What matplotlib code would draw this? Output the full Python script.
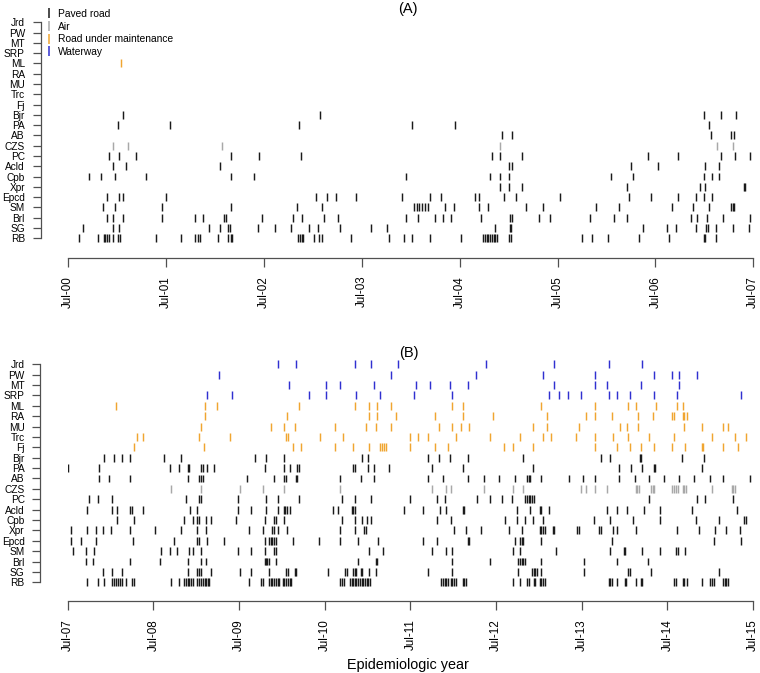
import matplotlib
matplotlib.use('Agg')
import matplotlib.pyplot as plt
from matplotlib.lines import Line2D

plt.rcParams['font.family'] = ['Liberation Sans', 'DejaVu Sans']

# categories, top to bottom
cats = ['Jrd', 'PW', 'MT', 'SRP', 'ML', 'RA', 'MU', 'Trc', 'Fj', 'Bjr', 'PA',
        'AB', 'CZS', 'PC', 'Acld', 'Cpb', 'Xpr', 'Epcd', 'SM', 'Brl', 'SG', 'RB']

# transport mode of each category
mode = {'Jrd': 'water', 'PW': 'water', 'MT': 'water', 'SRP': 'water',
        'ML': 'maint', 'RA': 'maint', 'MU': 'maint', 'Trc': 'maint', 'Fj': 'maint',
        'CZS': 'air'}

legend_labels = ['Paved road', 'Air', 'Road under maintenance', 'Waterway']
ticks_A = ['Jul-00', 'Jul-01', 'Jul-02', 'Jul-03', 'Jul-04', 'Jul-05', 'Jul-06', 'Jul-07']
ticks_B = ['Jul-07', 'Jul-08', 'Jul-09', 'Jul-10', 'Jul-11', 'Jul-12', 'Jul-13', 'Jul-14', 'Jul-15']

# events, in years since Jul-00
events_A = {
    'ML': [0.54],
    'Bjr': [0.56, 2.57, 6.50, 6.67, 6.82],
    'PA': [0.51, 1.04, 2.36, 3.51, 3.95, 6.55],
    'AB': [4.43, 4.54, 6.57, 6.77, 6.80],
    'CZS': [0.46, 0.61, 1.57, 4.41, 6.63, 6.79],
    'PC': [0.42, 0.52, 0.69, 1.67, 1.95, 2.38, 4.33, 4.41, 4.64, 5.92, 6.23, 6.67,
           6.81, 6.97],
    'Acld': [0.46, 0.59, 1.55, 4.50, 4.54, 5.75, 6.03, 6.51, 6.65],
    'Cpb': [0.21, 0.34, 0.48, 0.80, 1.67, 1.90, 3.45, 4.31, 4.41, 4.50, 5.55, 5.77,
            6.50, 6.58, 6.65],
    'Xpr': [4.41, 4.50, 4.64, 5.71, 6.46, 6.51, 6.90, 6.92],
    'Epcd': [0.40, 0.52, 0.56, 1.00, 2.53, 2.65, 2.74, 2.94, 3.41, 3.70, 3.81, 4.16,
             4.20, 4.45, 4.58, 5.03, 5.73, 5.96, 6.23, 6.41, 6.50, 6.58],
    'SM': [0.36, 0.48, 0.96, 1.67, 2.34, 2.59, 3.53, 3.56, 3.59, 3.62, 3.65, 3.68,
           3.85, 3.94, 4.20, 4.29, 4.68, 4.85, 5.39, 5.63, 6.17, 6.38, 6.55, 6.77,
           6.79, 6.80],
    'Brl': [0.40, 0.46, 0.56, 0.96, 1.30, 1.38, 1.59, 1.61, 1.98, 2.30, 2.39, 2.62,
            2.76, 3.45, 3.58, 3.75, 3.83, 3.91, 4.22, 4.51, 4.54, 4.81, 4.92, 5.33,
            5.58, 5.71, 6.36, 6.42, 6.53, 6.69, 6.97],
    'SG': [0.15, 0.46, 0.52, 1.44, 1.55, 1.63, 1.65, 1.94, 2.11, 2.28, 2.46, 2.55,
           2.78, 3.10, 3.26, 4.36, 4.51, 4.52, 5.87, 6.12, 6.21, 6.41, 6.52, 6.54,
           6.62, 6.79, 6.96],
    'RB': [0.11, 0.31, 0.37, 0.38, 0.40, 0.42, 0.46, 0.51, 0.53, 0.90, 1.15, 1.30,
           1.33, 1.35, 1.53, 1.63, 1.66, 1.68, 2.35, 2.37, 2.39, 2.40, 2.51, 2.56,
           2.59, 2.89, 3.28, 3.43, 3.51, 3.70, 4.01, 4.24, 4.26, 4.28, 4.29, 4.31,
           4.33, 4.35, 4.36, 4.38, 4.50, 4.52, 5.25, 5.35, 5.52, 5.83, 6.14, 6.50,
           6.51, 6.62],
}

# events, in years since Jul-07
events_B = {
    'Jrd': [2.46, 2.67, 3.35, 3.54, 3.85, 4.88, 5.68, 6.32, 6.71],
    'PW': [1.77, 3.77, 4.77, 5.55, 6.16, 6.85, 7.06, 7.14, 7.35],
    'MT': [2.58, 3.01, 3.18, 3.58, 4.07, 4.23, 4.46, 4.67, 5.68, 6.16, 6.29, 6.69, 7.14],
    'SRP': [1.63, 1.92, 2.82, 3.02, 3.36, 3.65, 4.04, 4.49, 5.62, 5.74, 5.84, 5.99,
            6.32, 6.41, 6.56, 6.85, 7.11, 7.86],
    'ML': [0.56, 1.60, 1.74, 2.70, 3.35, 3.52, 3.61, 3.77, 4.49, 4.61, 5.53, 6.16,
           6.54, 6.64, 6.87, 7.11, 7.18],
    'RA': [1.60, 2.56, 3.52, 3.61, 3.83, 4.29, 4.61, 4.97, 5.59, 6.05, 6.16, 6.35,
           6.66, 6.83, 7.06, 7.08, 7.18, 7.20, 7.23],
    'MU': [1.56, 2.37, 2.53, 2.65, 3.12, 3.48, 3.60, 3.77, 4.33, 4.49, 4.59, 4.69,
           5.43, 5.60, 5.97, 6.45, 6.53, 6.66, 7.20, 7.41, 7.65, 7.71],
    'Trc': [0.81, 0.88, 1.53, 1.90, 2.55, 2.57, 2.95, 3.21, 4.00, 4.09, 4.21, 4.53,
            4.93, 5.28, 5.55, 5.64, 5.93, 6.16, 6.37, 6.54, 6.79, 7.08, 7.52, 7.79,
            7.92],
    'Fj': [0.77, 1.59, 2.63, 2.72, 3.12, 3.33, 3.52, 3.65, 3.67, 3.69, 3.71, 4.00,
           4.29, 4.44, 5.09, 5.20, 5.43, 6.16, 6.41, 6.56, 6.69, 6.85, 7.06, 7.21,
           7.41, 7.42, 7.65, 7.83],
    'Bjr': [0.42, 0.54, 0.63, 0.73, 1.13, 1.32, 2.19, 2.32, 2.53, 3.44, 3.50, 4.21,
            4.33, 4.46, 4.67, 5.32, 6.22, 6.33, 6.68, 6.69, 7.17, 7.43],
    'PA': [0.00, 0.37, 1.19, 1.30, 1.40, 1.42, 1.56, 1.58, 1.63, 1.71, 2.30, 2.53,
           2.59, 2.68, 2.70, 3.33, 3.35, 3.50, 3.58, 3.75, 4.25, 4.61, 5.43, 6.43,
           6.58, 6.71, 6.85, 6.86, 7.41],
    'AB': [0.37, 0.48, 0.73, 1.40, 1.53, 1.56, 1.58, 2.09, 2.41, 2.53, 2.55, 2.67,
           2.68, 3.18, 3.42, 3.58, 4.21, 4.38, 4.67, 4.86, 5.03, 5.22, 5.36, 5.38,
           5.40, 5.53, 5.85, 6.01, 6.16, 6.43, 6.62, 6.79, 6.96, 7.14, 7.31, 7.50,
           7.65, 7.96],
    'CZS': [1.21, 1.56, 2.01, 2.28, 2.53, 3.18, 4.25, 4.42, 4.48, 4.86, 5.20, 5.32,
            5.99, 6.05, 6.16, 6.29, 6.63, 6.65, 6.67, 6.81, 6.83, 6.85, 7.06, 7.08,
            7.10, 7.12, 7.18, 7.20, 7.22, 7.52, 7.75, 7.77, 7.79],
    'PC': [0.25, 0.35, 0.52, 1.38, 1.53, 1.56, 1.99, 2.32, 2.45, 2.70, 3.20, 3.35,
           3.54, 4.00, 4.31, 4.40, 4.78, 4.93, 5.07, 5.19, 5.34, 5.36, 5.38, 5.40,
           5.42, 5.44, 6.79, 7.35, 7.44, 7.77],
    'Acld': [0.23, 0.52, 0.58, 0.73, 0.75, 0.88, 1.43, 1.51, 1.99, 2.14, 2.32, 2.45,
             2.52, 2.54, 2.56, 2.60, 3.10, 3.16, 3.32, 3.33, 3.35, 3.93, 4.15, 4.35,
             4.42, 4.61, 4.63, 5.24, 5.40, 5.51, 5.53, 5.62, 6.29, 6.41, 6.53, 6.73,
             6.91, 7.29, 7.81],
    'Cpb': [0.57, 0.77, 1.36, 1.46, 1.51, 1.53, 1.61, 1.67, 1.97, 2.30, 2.41, 2.43,
            2.53, 3.20, 3.35, 3.44, 3.49, 3.54, 4.31, 4.48, 5.11, 5.24, 5.34, 5.43,
            5.55, 6.14, 6.33, 6.60, 6.92, 7.33, 7.60, 7.90, 7.92],
    'Xpr': [0.04, 0.23, 0.33, 0.41, 0.50, 0.73, 1.02, 1.32, 1.51, 1.61, 2.12, 2.28,
            2.39, 2.41, 2.45, 2.56, 3.18, 3.35, 3.46, 3.48, 4.51, 4.65, 4.82, 5.15,
            5.30, 5.51, 5.53, 5.55, 5.57, 5.66, 5.68, 5.95, 5.97, 6.20, 6.22, 6.37,
            6.41, 6.64, 7.11, 7.37, 7.56, 7.69, 7.85],
    'Epcd': [0.04, 0.16, 0.33, 0.76, 1.24, 1.51, 1.53, 1.63, 1.82, 2.30, 2.35, 2.37,
             2.39, 2.41, 2.43, 2.63, 2.93, 3.18, 3.39, 3.62, 4.15, 4.31, 4.67, 4.69,
             5.22, 5.28, 5.30, 5.32, 5.53, 6.35, 7.54, 7.86],
    'SM': [0.06, 0.21, 0.31, 1.09, 1.19, 1.28, 1.42, 1.46, 1.56, 1.99, 2.14, 2.30,
           2.41, 2.43, 3.52, 3.68, 4.25, 4.42, 4.49, 5.20, 5.28, 5.70, 6.33, 6.49,
           6.51, 6.71, 6.92, 7.10, 7.12, 7.21],
    'Brl': [0.21, 0.29, 0.73, 1.08, 1.40, 1.56, 1.61, 2.30, 2.32, 2.33, 2.35, 2.43,
            3.39, 3.60, 3.61, 4.49, 4.93, 5.26, 5.28, 5.30, 5.32, 5.34, 5.53, 6.03,
            6.41, 6.77],
    'SG': [0.41, 0.52, 0.63, 1.40, 1.51, 1.53, 1.56, 1.67, 2.01, 2.14, 2.35, 2.55,
           2.57, 2.65, 2.67, 3.04, 3.24, 3.26, 3.33, 3.35, 3.37, 3.42, 3.44, 3.52,
           3.60, 4.21, 4.49, 5.26, 5.42, 5.44, 5.46, 5.48, 5.53, 6.03, 6.54, 6.56,
           6.81, 7.60],
    'RB': [0.23, 0.35, 0.42, 0.52, 0.54, 0.56, 0.59, 0.61, 0.63, 0.68, 0.75, 0.77,
           1.21, 1.30, 1.36, 1.38, 1.40, 1.42, 1.44, 1.46, 1.51, 1.53, 1.56, 1.58,
           1.60, 1.62, 1.64, 1.65, 2.12, 2.26, 2.28, 2.35, 2.37, 2.39, 2.41, 2.43,
           2.45, 2.47, 2.51, 2.53, 2.55, 2.57, 2.59, 2.61, 3.18, 3.20, 3.22, 3.30,
           3.32, 3.33, 3.35, 3.37, 3.39, 3.41, 3.43, 3.45, 3.47, 3.49, 3.51, 3.53,
           4.36, 4.38, 4.40, 4.42, 4.44, 4.48, 4.49, 4.51, 4.53, 4.61, 4.63, 4.65,
           5.20, 5.28, 5.36, 5.38, 5.44, 5.46, 5.51, 5.53, 5.55, 5.57, 6.32, 6.33,
           6.35, 6.41, 6.50, 6.52, 6.64, 6.69, 6.71, 7.08, 7.10, 7.18, 7.20, 7.23,
           7.41, 7.50, 7.52, 7.54, 7.65, 7.67, 7.69, 7.71],
}

colors = {'paved': '#1a1a1a', 'air': '#a8a8a8', 'maint': '#f0a530', 'water': '#3030d0'}
axis_col = '#505050'

W, H = 760, 673
fig = plt.figure(figsize=(W / 100, H / 100), dpi=100)


def px_box(left, right, top, bottom):
    return [left / W, 1 - bottom / H, (right - left) / W, (bottom - top) / H]


def panel(box, events, ticklabels, drop):
    ax = fig.add_axes(box)
    # place the offset axis lines first: moving a spine resets its ticks
    for s in ['top', 'right']:
        ax.spines[s].set_visible(False)
    ax.spines['left'].set_position(('outward', 19.7))
    ax.spines['bottom'].set_position(('outward', drop))

    ypos = {c: len(cats) - 1 - i for i, c in enumerate(cats)}
    for c, times in events.items():
        col = colors[mode.get(c, 'paved')]
        y = ypos[c]
        ax.vlines(times, y - 0.38, y + 0.38, colors=col, linewidth=1.05)

    n = len(ticklabels) - 1
    ax.set_xlim(0, n)
    ax.set_ylim(-0.5, len(cats) - 0.5)
    ax.set_xticks(range(n + 1))
    ax.set_xticklabels(ticklabels)
    ax.set_yticks([ypos[c] for c in cats])
    ax.set_yticklabels(cats)
    ax.spines['left'].set_bounds(0, len(cats) - 1)
    ax.spines['bottom'].set_bounds(0, n)
    for s in ['left', 'bottom']:
        ax.spines[s].set_color(axis_col)
        ax.spines[s].set_linewidth(0.9)
    ax.tick_params(axis='y', length=5.8, width=0.9, color=axis_col, pad=5.5,
                   labelsize=7.3)
    ax.tick_params(axis='x', length=6.5, width=0.9, color=axis_col, pad=6.5,
                   labelsize=8.4, labelrotation=90)
    return ax


axA = panel(px_box(68, 753.3, 17.1, 243.4), events_A, ticks_A, 10.3)
axB = panel(px_box(67.7, 753, 359.1, 587.5), events_B, ticks_B, 9.7)

fig.text(408 / W, 1 - 9 / H, '(A)', ha='center', va='center', fontsize=10.5)
fig.text(409 / W, 1 - 353 / H, '(B)', ha='center', va='center', fontsize=10.5)
fig.text(408 / W, 1 - 665 / H, 'Epidemiologic year', ha='center', va='center', fontsize=10.4)

handles = [Line2D([], [], color=colors[k], marker='|', linestyle='none',
                  markersize=7, markeredgewidth=1.1)
           for k in ['paved', 'air', 'maint', 'water']]
fig.legend(handles, legend_labels, loc='upper left', bbox_to_anchor=(46 / W, 1 - 9 / H),
           frameon=False, fontsize=7.4, handlelength=0.6, handletextpad=0.6,
           labelspacing=0.26, borderpad=0, borderaxespad=0)

fig.savefig('out.png', dpi=100)
